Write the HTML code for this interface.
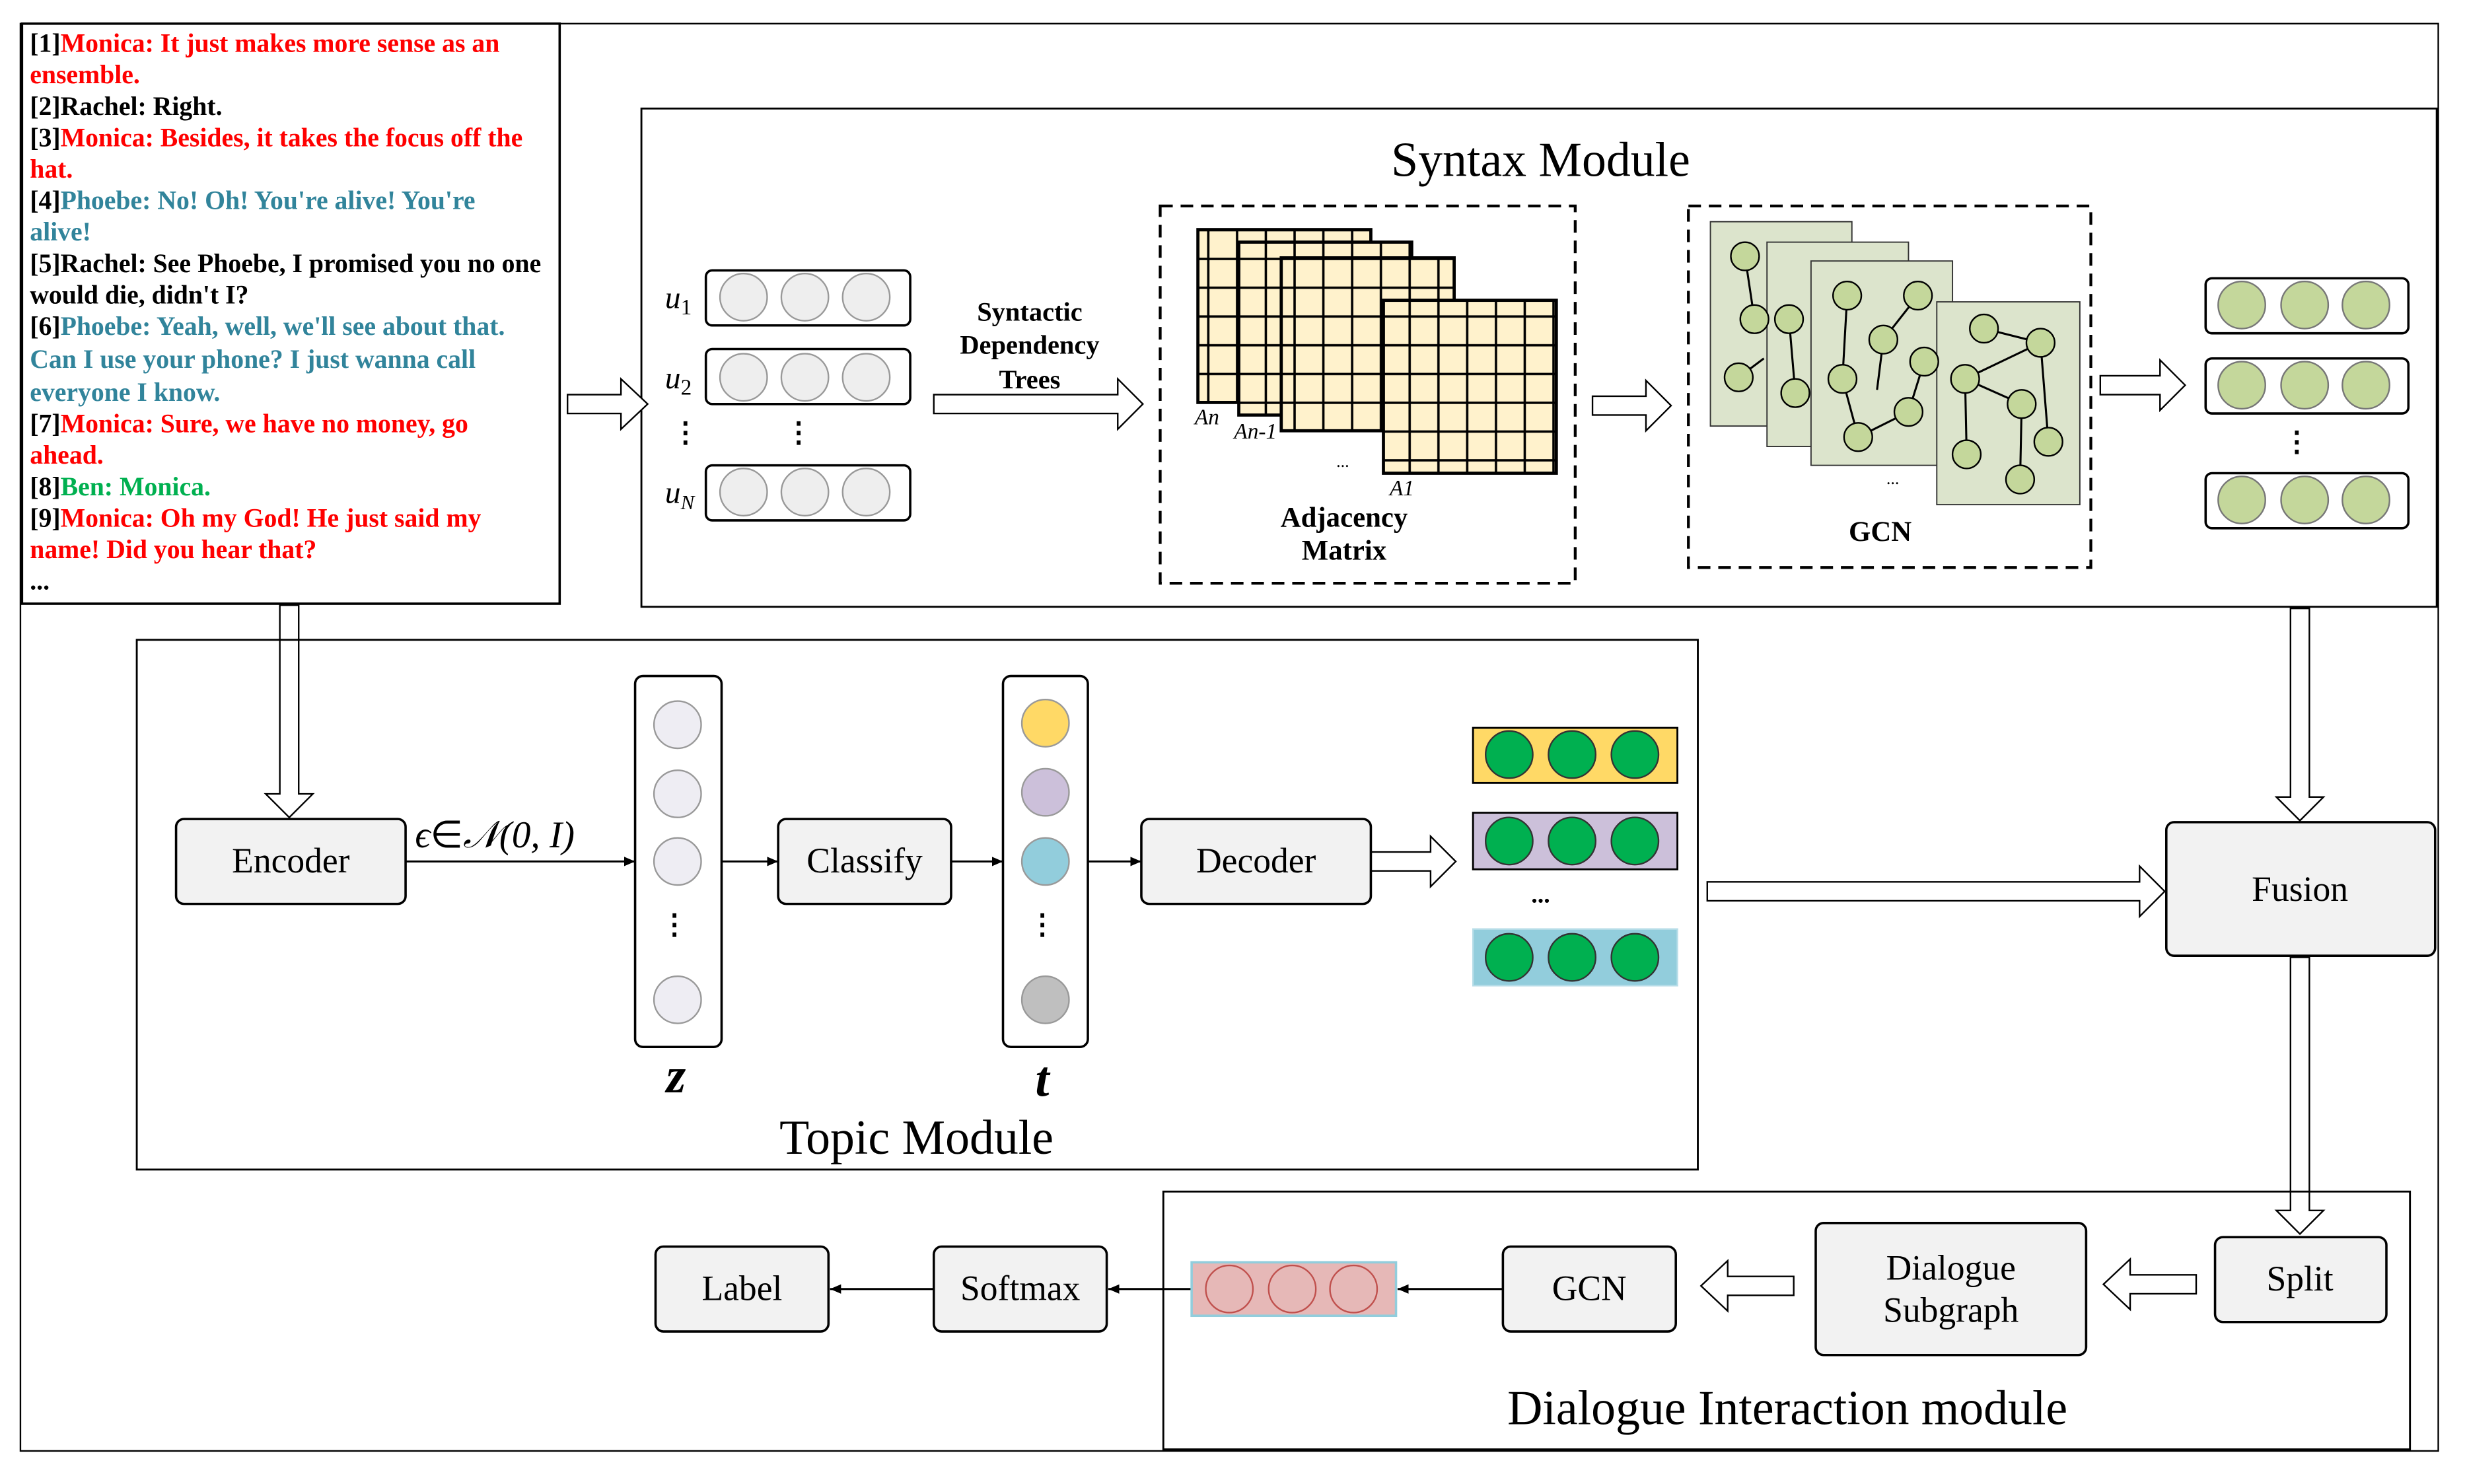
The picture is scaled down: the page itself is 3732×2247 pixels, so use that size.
<!DOCTYPE html>
<html><head><meta charset="utf-8"><style>
html,body{margin:0;padding:0;background:#fff}
svg{display:block}
text{font-family:"Liberation Serif",serif}
</style></head><body>
<svg width="3732" height="2247" viewBox="0 0 1568 944" xmlns="http://www.w3.org/2000/svg">
<defs>
<marker id="ah" markerWidth="8" markerHeight="8" refX="7" refY="4" orient="auto" markerUnits="userSpaceOnUse"><path d="M0,1 L7,4 L0,7 Z" fill="#000"/></marker>
<pattern id="grid" width="18.3" height="18.3" patternUnits="userSpaceOnUse"><rect width="18.3" height="18.3" fill="#fff2cc" stroke="#000" stroke-width="1.5"/></pattern>
</defs>
<rect x="0" y="0" width="1568" height="944" fill="#fff"/>
<rect x="13" y="15" width="1538" height="908" fill="none" stroke="#000" stroke-width="1"/>

<!-- text box -->
<rect x="14" y="15" width="342" height="369" fill="#fff" stroke="#000" stroke-width="1.5"/>
<g font-size="16.7" font-weight="bold">
<text x="19" y="33"><tspan fill="#000">[1]</tspan><tspan fill="#f00">Monica: It just makes more sense as an</tspan></text>
<text x="19" y="53" fill="#f00">ensemble.</text>
<text x="19" y="73">[2]Rachel: Right.</text>
<text x="19" y="93"><tspan>[3]</tspan><tspan fill="#f00">Monica: Besides, it takes the focus off the</tspan></text>
<text x="19" y="113" fill="#f00">hat.</text>
<text x="19" y="133"><tspan>[4]</tspan><tspan fill="#31849b">Phoebe: No! Oh! You're alive! You're</tspan></text>
<text x="19" y="153" fill="#31849b">alive!</text>
<text x="19" y="173">[5]Rachel: See Phoebe, I promised you no one</text>
<text x="19" y="193">would die, didn't I?</text>
<text x="19" y="213"><tspan>[6]</tspan><tspan fill="#31849b">Phoebe: Yeah, well, we'll see about that.</tspan></text>
<text x="19" y="234" fill="#31849b">Can I use your phone? I just wanna call</text>
<text x="19" y="255" fill="#31849b">everyone I know.</text>
<text x="19" y="275"><tspan>[7]</tspan><tspan fill="#f00">Monica: Sure, we have no money, go</tspan></text>
<text x="19" y="295" fill="#f00">ahead.</text>
<text x="19" y="315"><tspan>[8]</tspan><tspan fill="#00b050">Ben: Monica.</tspan></text>
<text x="19" y="335"><tspan>[9]</tspan><tspan fill="#f00">Monica: Oh my God! He just said my</tspan></text>
<text x="19" y="355" fill="#f00">name! Did you hear that?</text>
<text x="19" y="375">...</text>
</g>

<!-- Syntax module -->
<rect x="408" y="69" width="1142" height="317" fill="none" stroke="#000" stroke-width="1.2"/>
<text x="980" y="112" font-size="31" text-anchor="middle">Syntax Module</text>

<g stroke="#000" stroke-width="1.5">
<rect x="449" y="172" width="130" height="35" rx="4" fill="#fff"/>
<rect x="449" y="222" width="130" height="35" rx="4" fill="#fff"/>
<rect x="449" y="296" width="130" height="35" rx="4" fill="#fff"/>
</g>
<g fill="#eeeeee" stroke="#999" stroke-width="1">
<circle cx="473" cy="189" r="15"/><circle cx="512" cy="189" r="15"/><circle cx="551" cy="189" r="15"/>
<circle cx="473" cy="240" r="15"/><circle cx="512" cy="240" r="15"/><circle cx="551" cy="240" r="15"/>
<circle cx="473" cy="313" r="15"/><circle cx="512" cy="313" r="15"/><circle cx="551" cy="313" r="15"/>
</g>
<g font-size="20" font-style="italic">
<text x="423" y="196">u<tspan font-size="14" dy="4" font-style="normal">1</tspan></text>
<text x="423" y="247">u<tspan font-size="14" dy="4" font-style="normal">2</tspan></text>
<text x="423" y="320">u<tspan font-size="13" dy="4">N</tspan></text>
</g>
<text x="436" y="281" font-size="18" text-anchor="middle" font-weight="bold">⋮</text>
<text x="508" y="281" font-size="18" text-anchor="middle" font-weight="bold">⋮</text>

<g font-size="17" font-weight="bold" text-anchor="middle">
<text x="655" y="204">Syntactic</text>
<text x="655" y="225">Dependency</text>
<text x="655" y="247">Trees</text>
</g>

<!-- hollow arrows -->
<g fill="#fff" stroke="#000" stroke-width="1">
<path d="M361,251 L395,251 L395,241 L412,257 L395,273 L395,263 L361,263 Z"/>
<path d="M594,251 L711,251 L711,241 L727,257 L711,273 L711,263 L594,263 Z"/>
<path d="M1013,252 L1047,252 L1047,242 L1063,258 L1047,274 L1047,264 L1013,264 Z"/>
<path d="M1336,239 L1374,239 L1374,229 L1390,245 L1374,261 L1374,251 L1336,251 Z"/>
<path d="M872,542 L910,542 L910,532 L926,548 L910,564 L910,554 L872,554 Z"/>
<path d="M1086,561 L1361,561 L1361,551 L1377,567 L1361,583 L1361,573 L1086,573 Z"/>
<path d="M178,385 L178,505 L169,505 L184,520 L199,505 L190,505 L190,385 Z"/>
<path d="M1457,387 L1457,507 L1448,507 L1463,522 L1478,507 L1469,507 L1469,387 Z"/>
<path d="M1457,609 L1457,770 L1448,770 L1463,785 L1478,770 L1469,770 L1469,609 Z"/>
<path d="M1397,811 L1355,811 L1355,801 L1338,817 L1355,833 L1355,823 L1397,823 Z"/>
<path d="M1141,812 L1099,812 L1099,802 L1082,818 L1099,834 L1099,824 L1141,824 Z"/>
</g>

<!-- Adjacency -->
<rect x="738" y="131" width="264" height="240" fill="none" stroke="#000" stroke-width="1.8" stroke-dasharray="8,5"/>
<g stroke="#000" stroke-width="2">
<rect x="762" y="146" width="110" height="110" fill="url(#grid)"/>
<rect x="788" y="154" width="110" height="110" fill="url(#grid)"/>
<rect x="815" y="164" width="110" height="110" fill="url(#grid)"/>
<rect x="880" y="191" width="110" height="110" fill="url(#grid)"/>
</g>
<g font-size="14" font-style="italic">
<text x="760" y="270">An</text><text x="785" y="279">An-1</text><text x="884" y="315">A1</text>
</g>
<text x="850" y="297" font-size="11">...</text>
<g font-size="18" font-weight="bold" text-anchor="middle">
<text x="855" y="335">Adjacency</text><text x="855" y="356">Matrix</text>
</g>

<!-- GCN graphs -->
<rect x="1074" y="131" width="256" height="230" fill="none" stroke="#000" stroke-width="1.8" stroke-dasharray="8,5"/>
<g fill="#dce4cc" stroke="#333" stroke-width="0.8">
<rect x="1088" y="141" width="90" height="130"/>
<rect x="1124" y="154" width="90" height="130"/>
<rect x="1152" y="166" width="90" height="130"/>
<rect x="1232" y="192" width="91" height="129"/>
</g>
<g stroke="#000" stroke-width="1.3">
<line x1="1110" y1="163" x2="1116" y2="203"/><line x1="1106" y1="240" x2="1122" y2="228"/>
<line x1="1138" y1="203" x2="1142" y2="250"/>
<line x1="1175" y1="188" x2="1172" y2="241"/><line x1="1220" y1="188" x2="1198" y2="216"/><line x1="1198" y1="216" x2="1194" y2="248"/>
<line x1="1172" y1="241" x2="1182" y2="278"/><line x1="1182" y1="278" x2="1214" y2="262"/><line x1="1214" y1="262" x2="1224" y2="230"/>
<line x1="1262" y1="209" x2="1298" y2="218"/><line x1="1298" y1="218" x2="1250" y2="241"/><line x1="1250" y1="241" x2="1286" y2="257"/>
<line x1="1298" y1="218" x2="1303" y2="281"/><line x1="1286" y1="257" x2="1285" y2="305"/><line x1="1250" y1="241" x2="1251" y2="289"/>
</g>
<g fill="#c4d79b" stroke="#000" stroke-width="1">
<circle cx="1110" cy="163" r="9"/><circle cx="1116" cy="203" r="9"/><circle cx="1106" cy="240" r="9"/>
<circle cx="1138" cy="203" r="9"/><circle cx="1142" cy="250" r="9"/>
<circle cx="1175" cy="188" r="9"/><circle cx="1220" cy="188" r="9"/><circle cx="1198" cy="216" r="9"/><circle cx="1172" cy="241" r="9"/>
<circle cx="1182" cy="278" r="9"/><circle cx="1214" cy="262" r="9"/><circle cx="1224" cy="230" r="9"/>
<circle cx="1262" cy="209" r="9"/><circle cx="1298" cy="218" r="9"/><circle cx="1250" cy="241" r="9"/><circle cx="1286" cy="257" r="9"/>
<circle cx="1303" cy="281" r="9"/><circle cx="1285" cy="305" r="9"/><circle cx="1251" cy="289" r="9"/>
</g>
<text x="1204" y="308" font-size="11" text-anchor="middle">...</text>
<text x="1196" y="344" font-size="18" font-weight="bold" text-anchor="middle">GCN</text>

<!-- outputs -->
<g stroke="#000" stroke-width="1.5" fill="#fff">
<rect x="1403" y="177" width="129" height="35" rx="4"/>
<rect x="1403" y="228" width="129" height="35" rx="4"/>
<rect x="1403" y="301" width="129" height="35" rx="4"/>
</g>
<g fill="#c4d79b" stroke="#777" stroke-width="1">
<circle cx="1426" cy="194" r="15"/><circle cx="1466" cy="194" r="15"/><circle cx="1505" cy="194" r="15"/>
<circle cx="1426" cy="245" r="15"/><circle cx="1466" cy="245" r="15"/><circle cx="1505" cy="245" r="15"/>
<circle cx="1426" cy="318" r="15"/><circle cx="1466" cy="318" r="15"/><circle cx="1505" cy="318" r="15"/>
</g>
<text x="1461" y="287" font-size="18" text-anchor="middle" font-weight="bold">⋮</text>

<!-- Topic module -->
<rect x="87" y="407" width="993" height="337" fill="none" stroke="#000" stroke-width="1.2"/>
<text x="583" y="734" font-size="31" text-anchor="middle">Topic Module</text>
<g fill="#f2f2f2" stroke="#000" stroke-width="1.5">
<rect x="112" y="521" width="146" height="54" rx="5"/>
<rect x="495" y="521" width="110" height="54" rx="5"/>
<rect x="726" y="521" width="146" height="54" rx="5"/>
<rect x="1378" y="523" width="171" height="85" rx="5"/>
<rect x="1409" y="787" width="109" height="54" rx="5"/>
<rect x="1155" y="778" width="172" height="84" rx="5"/>
<rect x="956" y="793" width="110" height="54" rx="5"/>
<rect x="594" y="793" width="110" height="54" rx="5"/>
<rect x="417" y="793" width="110" height="54" rx="5"/>
</g>
<g font-size="22.5" text-anchor="middle">
<text x="185" y="555">Encoder</text>
<text x="550" y="555">Classify</text>
<text x="799" y="555">Decoder</text>
<text x="1463" y="573">Fusion</text>
<text x="1463" y="821">Split</text>
<text x="1241" y="814">Dialogue</text>
<text x="1241" y="841">Subgraph</text>
<text x="1011" y="827">GCN</text>
<text x="649" y="827">Softmax</text>
<text x="472" y="827">Label</text>
</g>
<text x="264" y="539" font-size="24" font-style="italic">ϵ<tspan font-style="normal">∈</tspan>𝒩(0,  I)</text>

<g stroke="#000" stroke-width="1.3" marker-end="url(#ah)">
<line x1="258" y1="548" x2="404" y2="548"/>
<line x1="459" y1="548" x2="495" y2="548"/>
<line x1="605" y1="548" x2="638" y2="548"/>
<line x1="692" y1="548" x2="726" y2="548"/>
<line x1="956" y1="820" x2="889" y2="820"/>
<line x1="758" y1="820" x2="705" y2="820"/>
<line x1="594" y1="820" x2="528" y2="820"/>
</g>

<rect x="404" y="430" width="55" height="236" rx="5" fill="#fff" stroke="#000" stroke-width="1.5"/>
<rect x="638" y="430" width="54" height="236" rx="5" fill="#fff" stroke="#000" stroke-width="1.5"/>
<g stroke="#999" stroke-width="1">
<circle cx="431" cy="461" r="15" fill="#eeedf3"/><circle cx="431" cy="505" r="15" fill="#eeedf3"/><circle cx="431" cy="548" r="15" fill="#eeedf3"/><circle cx="431" cy="636" r="15" fill="#eeedf3"/>
<circle cx="665" cy="460" r="15" fill="#ffd966"/><circle cx="665" cy="504" r="15" fill="#ccc0da"/><circle cx="665" cy="548" r="15" fill="#92cddc"/><circle cx="665" cy="636" r="15" fill="#bfbfbf"/>
</g>
<text x="429" y="594" font-size="18" text-anchor="middle" font-weight="bold">⋮</text>
<text x="663" y="594" font-size="18" text-anchor="middle" font-weight="bold">⋮</text>
<text x="430" y="695" font-size="32" font-style="italic" font-weight="bold" text-anchor="middle">z</text>
<text x="663" y="697" font-size="32" font-style="italic" font-weight="bold" text-anchor="middle">t</text>

<rect x="937" y="463" width="130" height="35" fill="#ffd966" stroke="#000" stroke-width="1.2"/>
<rect x="937" y="517" width="130" height="36" fill="#ccc0da" stroke="#000" stroke-width="1.2"/>
<rect x="937" y="591" width="130" height="36" fill="#92cddc" stroke="#b7dde8" stroke-width="1"/>
<g fill="#00b050" stroke="#333" stroke-width="1">
<circle cx="960" cy="480" r="15"/><circle cx="1000" cy="480" r="15"/><circle cx="1040" cy="480" r="15"/>
<circle cx="960" cy="535" r="15"/><circle cx="1000" cy="535" r="15"/><circle cx="1040" cy="535" r="15"/>
<circle cx="960" cy="609" r="15"/><circle cx="1000" cy="609" r="15"/><circle cx="1040" cy="609" r="15"/>
</g>
<text x="980" y="574" font-size="16" text-anchor="middle" font-weight="bold">...</text>

<!-- Dialogue interaction -->
<rect x="740" y="758" width="793" height="164" fill="none" stroke="#000" stroke-width="1.2"/>
<text x="1137" y="906" font-size="31" text-anchor="middle">Dialogue Interaction module</text>
<rect x="758" y="803" width="130" height="34" fill="#e6b8b7" stroke="#92cddc" stroke-width="1.5"/>
<g fill="#e6b8b7" stroke="#c0504d" stroke-width="1">
<circle cx="782" cy="820" r="15"/><circle cx="822" cy="820" r="15"/><circle cx="861" cy="820" r="15"/>
</g>
</svg>
</body></html>
